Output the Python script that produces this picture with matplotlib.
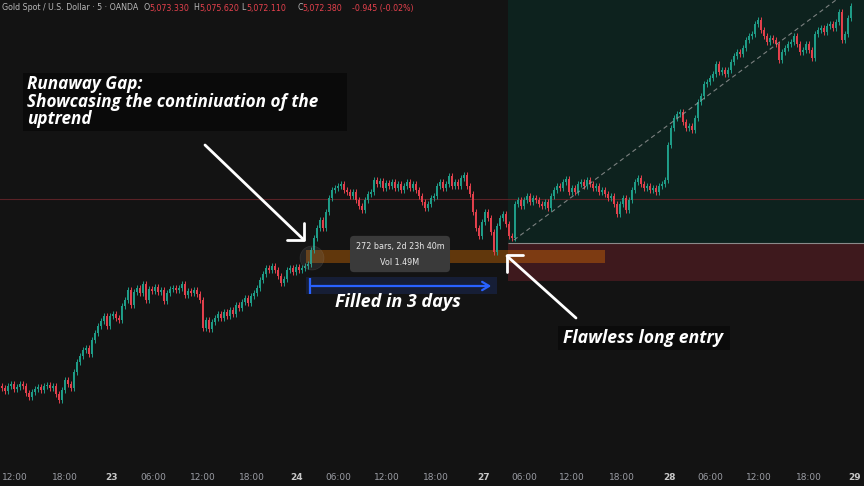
import matplotlib
matplotlib.use("Agg")
import matplotlib.pyplot as plt
import matplotlib.patches as patches
import numpy as np

# closing prices, one bar every ~15 min
closes = [
    4712, 4709, 4714, 4716, 4711, 4713, 4716, 4714, 4707, 4703,
    4708, 4711, 4713, 4710, 4714, 4715, 4712, 4714, 4706, 4700,
    4710, 4720, 4716, 4712, 4728, 4738, 4744, 4750, 4752, 4746,
    4760, 4767, 4774, 4779, 4784, 4774, 4784, 4786, 4782, 4780,
    4794, 4800, 4810, 4795, 4808, 4812, 4807, 4816, 4800, 4811,
    4809, 4813, 4808, 4810, 4799, 4807, 4811, 4812, 4810, 4812,
    4816, 4805, 4809, 4807, 4810, 4806, 4800, 4772, 4780, 4771,
    4778, 4782, 4786, 4782, 4788, 4784, 4790, 4786, 4795, 4792,
    4798, 4802, 4797, 4804, 4807, 4812, 4820, 4826, 4832, 4830,
    4834, 4830, 4824, 4817, 4821, 4830, 4832, 4828, 4833, 4830,
    4832, 4834, 4836, 4850, 4862, 4872, 4880, 4872, 4888, 4902,
    4910, 4912, 4914, 4916, 4910, 4908, 4904, 4908, 4900, 4894,
    4890, 4900, 4906, 4908, 4920, 4916, 4919, 4912, 4917, 4914,
    4918, 4912, 4916, 4910, 4914, 4918, 4912, 4916, 4910, 4904,
    4898, 4892, 4896, 4902, 4904, 4914, 4918, 4912, 4916, 4924,
    4914, 4918, 4914, 4922, 4925, 4914, 4906, 4888, 4872, 4864,
    4878, 4888, 4882, 4868, 4848, 4874, 4882, 4886, 4876, 4864,
    4862, 4896, 4900, 4894, 4900, 4904, 4898, 4902, 4900, 4896,
    4894, 4898, 4892, 4904, 4910, 4914, 4912, 4918, 4921, 4908,
    4912, 4908, 4916, 4918, 4914, 4920, 4916, 4912, 4914, 4908,
    4910, 4906, 4902, 4904, 4896, 4886, 4896, 4902, 4890, 4900,
    4910, 4918, 4922, 4916, 4912, 4914, 4910, 4912, 4908, 4914,
    4916, 4920, 4955, 4972, 4982, 4986, 4988, 4978, 4972, 4974,
    4970, 4982, 4998, 5004, 5016, 5018, 5022, 5026, 5036, 5028,
    5030, 5026, 5030, 5038, 5044, 5048, 5046, 5052, 5060, 5064,
    5066, 5076, 5080, 5070, 5064, 5058, 5062, 5060, 5056, 5040,
    5048, 5052, 5056, 5058, 5064, 5056, 5048, 5050, 5056, 5050,
    5042, 5066, 5070, 5072, 5068, 5074, 5076, 5072, 5078, 5088,
    5060, 5066, 5082, 5094,
]

tick_bars = [4.5, 21.2, 36.8, 50.5, 67.2, 83.5, 98.5, 112.2, 128.5, 144.8,
             160.8, 174.2, 190.2, 206.8, 222.8, 236.2, 252.5, 269.2, 284.5]
tick_labels = ["12:00", "18:00", "23", "06:00", "12:00", "18:00", "24", "06:00",
               "12:00", "18:00", "27", "06:00", "12:00", "18:00", "28", "06:00",
               "12:00", "18:00", "29"]

# levels
resistance = 4901
gap_low, gap_high = 4837, 4850
entry_price, stop_price = 4857, 4819

BG = "#131313"
UP = "#1f9e89"
DOWN = "#e5414d"
wick = 3.0

fig = plt.figure(figsize=(8.64, 4.86), dpi=100, facecolor=BG)
ax = fig.add_axes([0, 20 / 486, 1, 466 / 486], facecolor=BG)
ax.set_xlim(-0.5, 287.5)
ax.set_ylim(4634, 5100)
for s in ax.spines.values():
    s.set_visible(False)
ax.set_yticks([])


# screenshot pixel -> data helpers for the drawings
def X(px):
    return (px - 1.5) / 3.0


def Y(py):
    return 5100 - py


# candles
c = np.array(closes, float)
o = np.r_[c[0] + 2, c[:-1]]
idx = np.arange(len(c))
col = np.where(c >= o, UP, DOWN)
ax.vlines(idx, np.minimum(o, c) - wick, np.maximum(o, c) + wick, colors=col, linewidth=0.7, zorder=4)
ax.bar(idx, np.maximum(np.abs(c - o), 0.8), bottom=np.minimum(o, c), width=0.65,
       color=col, linewidth=0, zorder=4)

# long position box
x0 = X(508)
ax.add_patch(patches.Rectangle((x0, entry_price), 287.5 - x0, 5100 - entry_price,
                               facecolor="#0d221e", linewidth=0, zorder=1))
ax.add_patch(patches.Rectangle((x0, stop_price), 287.5 - x0, entry_price - stop_price,
                               facecolor="#3e191d", linewidth=0, zorder=1))
ax.hlines(entry_price, x0, 287.5, color="#8a8a8a", linewidth=0.8, zorder=2)
ax.plot([X(514), X(836)], [Y(240), Y(0)], color="#a0a0a0", linewidth=0.8,
        linestyle=(0, (4, 3)), alpha=0.75, zorder=5)

# horizontal level
ax.axhline(resistance, color="#5a2226", linewidth=0.8, zorder=1.5)

# gap band
ax.add_patch(patches.Rectangle((X(306), gap_low), X(605) - X(306), gap_high - gap_low,
                               facecolor="#f57c00", alpha=0.35, linewidth=0, zorder=2))
ax.add_patch(patches.Ellipse((X(312), Y(258)), 8, 24, facecolor="#888888", alpha=0.15,
                             edgecolor="#aaaaaa", linewidth=0.5, zorder=5))

# date range measure
ax.add_patch(patches.Rectangle((X(306), Y(294)), X(497) - X(306), 17,
                               facecolor="#2962ff", alpha=0.15, linewidth=0, zorder=2))
ax.annotate("", xy=(X(494), Y(286)), xytext=(X(309), Y(286)),
            arrowprops=dict(arrowstyle="->,head_length=0.5,head_width=0.3",
                            color="#2962ff", lw=1.6), zorder=6)
ax.vlines(X(310), Y(294), Y(278), color="#2962ff", linewidth=1.6, zorder=6)
ax.text(X(400), Y(254), "272 bars, 2d 23h 40m\nVol 1.49M", ha="center", va="center",
        fontsize=5.8, color="#e8e8e8", linespacing=2.0, zorder=7,
        bbox=dict(boxstyle="round,pad=0.7,rounding_size=0.5", fc="#3a3a3a", ec="none"))

# white arrows
arrow_kw = dict(color="white", linewidth=2, solid_capstyle="round", zorder=8)
ax.plot([X(205), X(304)], [Y(145), Y(240)], **arrow_kw)
ax.plot([X(287), X(304), X(304)], [Y(240), Y(240), Y(223)], **arrow_kw)
ax.plot([X(576), X(507)], [Y(318), Y(256)], **arrow_kw)
ax.plot([X(523), X(507), X(507)], [Y(255), Y(255), Y(272)], **arrow_kw)

# annotation texts
font = dict(family="Open Sans", weight="bold", style="italic", color="white")
ax.add_patch(patches.Rectangle((X(23), Y(131)), X(347) - X(23), 58,
                               facecolor="#0a0a0a", linewidth=0, zorder=7))
ax.text(X(27), Y(75), "Runaway Gap:\nShowcasing the continiuation of the\nuptrend",
        ha="left", va="top", fontsize=12.3, linespacing=0.98, zorder=8, **font)
ax.text(X(398), Y(302), "Filled in 3 days", ha="center", va="center",
        fontsize=13, zorder=8, **font)
ax.add_patch(patches.Rectangle((X(558), Y(350)), X(730) - X(558), 24,
                               facecolor="#0b0b0b", linewidth=0, zorder=7))
ax.text(X(563), Y(338), "Flawless long entry", ha="left", va="center",
        fontsize=12.7, zorder=8, **font)

# time axis
ax.set_xticks(tick_bars, tick_labels)
ax.tick_params(axis="x", length=0, colors="#9a9ca3", labelsize=6.5, pad=5)
for lab in ax.get_xticklabels():
    if ":" not in lab.get_text():
        lab.set_fontweight("bold")
        lab.set_color("#c8c8c8")

# header
gray, red = "#b8b8b8", "#e5414d"
header = [(2, "Gold Spot / U.S. Dollar · 5 · OANDA", gray),
          (143, "O", gray), (149, "5,073.330", red),
          (193, "H", gray), (199, "5,075.620", red),
          (241, "L", gray), (246, "5,072.110", red),
          (297, "C", gray), (302, "5,072.380", red),
          (352, "-0.945 (-0.02%)", red)]
for px, txt, cl in header:
    fig.text(px / 864, 1 - 8 / 486, txt, ha="left", va="center", fontsize=5.7, color=cl)

fig.savefig("out.png", dpi=100, facecolor=BG)
